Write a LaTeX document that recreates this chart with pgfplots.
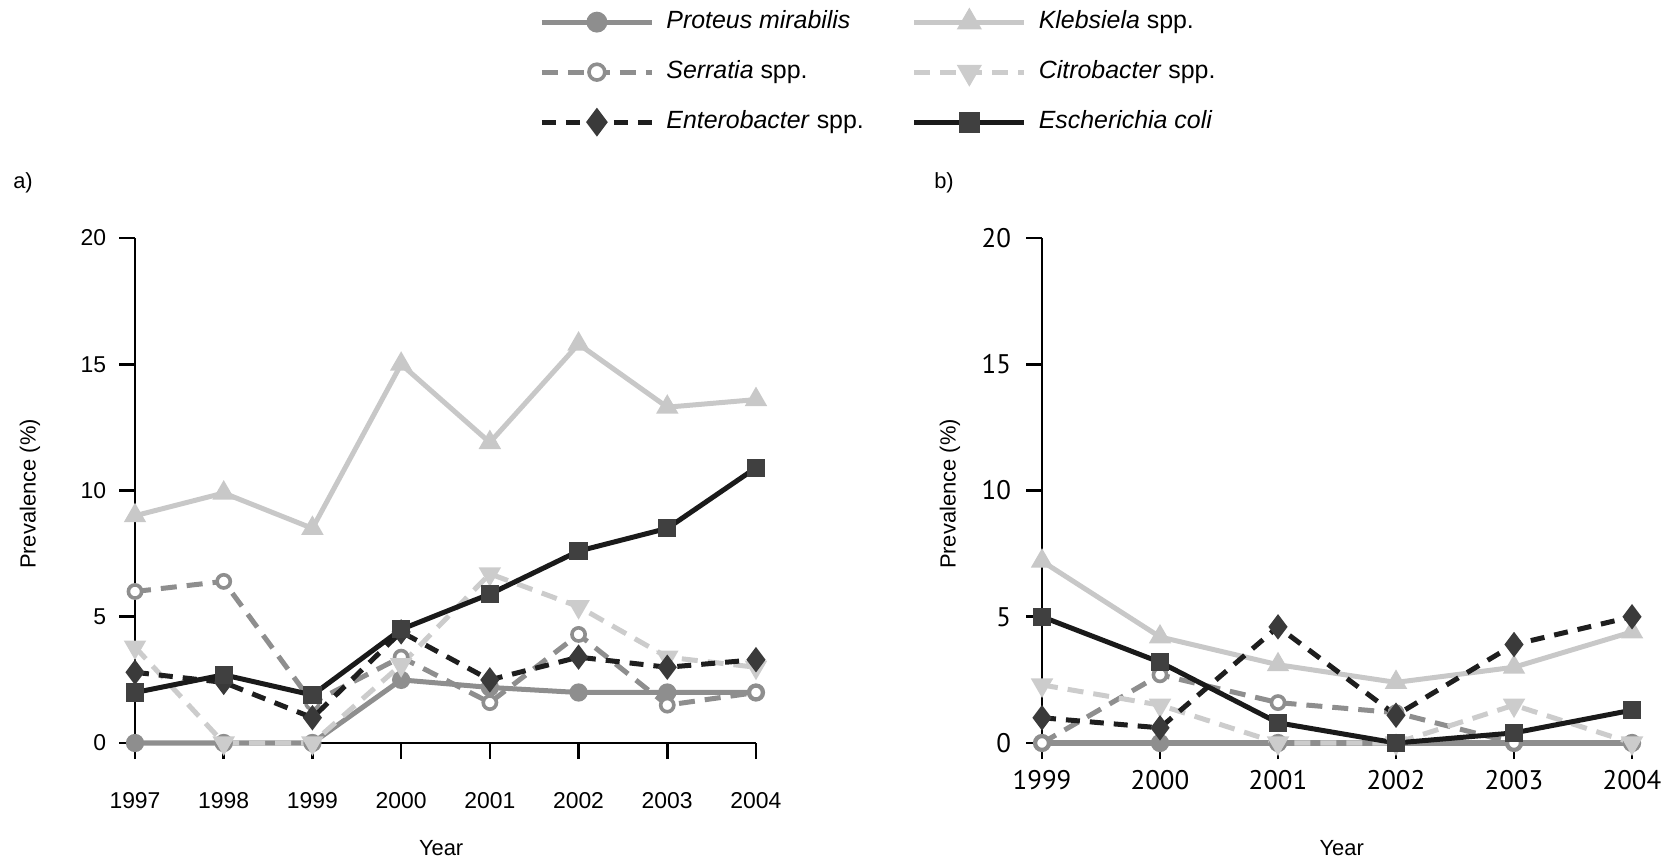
\documentclass[border=0pt]{standalone}
\usepackage{fontspec}
\setmainfont{Liberation Sans}
\newfontfamily\tickfont{PT Sans}
\usepackage{pgfplots}
\usepackage{pgfplotstable}
\pgfplotsset{compat=1.18}

\definecolor{protc}{HTML}{8E8E8E}
\definecolor{klebc}{HTML}{C8C8C8}
\definecolor{serrc}{HTML}{8E8E8E}
\definecolor{citrc}{HTML}{CCCCCC}
\definecolor{entc}{HTML}{1E1E1E}
\definecolor{entm}{HTML}{3A3A3A}
\definecolor{ecoc}{HTML}{1A1A1A}
\definecolor{ecom}{HTML}{404040}

% Prevalence (%) by year, 1997-2004
\pgfplotstableread{
year prot kleb serr citr ent eco
1997 0   9.0  6.0 3.8 2.8 2.0
1998 0   9.9  6.4 0   2.4 2.7
1999 0   8.5  1.6 0   1.0 1.9
2000 2.5 15.0 3.4 3.1 4.4 4.5
2001 2.2 11.9 1.6 6.7 2.5 5.9
2002 2.0 15.8 4.3 5.4 3.4 7.6
2003 2.0 13.3 1.5 3.4 3.0 8.5
2004 2.0 13.6 2.0 3.0 3.3 10.9
}\tabA

% Prevalence (%) by year, 1999-2004
\pgfplotstableread{
year prot kleb serr citr ent eco
1999 0 7.2 0   2.3 1.0 5.0
2000 0 4.2 2.7 1.5 0.6 3.2
2001 0 3.1 1.6 0   4.6 0.8
2002 0 2.4 1.2 0   1.1 0
2003 0 3.0 0   1.5 3.9 0.4
2004 0 4.4 0   0   5.0 1.3
}\tabB

\pgfplotsset{
  prev/.style={
    scale only axis, height=252.5bp,
    ymin=0, ymax=20, ytick={0,5,10,15,20},
    axis x line*=bottom, axis y line*=left,
    axis line style={black, line width=1.3bp, -},
    tick align=outside, major tick length=8bp,
    tick style={black, line width=1.3bp},
    xtick pos=left, ytick pos=left,
    clip=false,
    /pgf/number format/assume math mode=true,
    /pgf/number format/set thousands separator={},
    ylabel={Prevalence (\%)}, xlabel={Year},
    label style={font=\fontsize{11}{13}\selectfont},
    legend image code/.code={\draw[mark repeat=2,mark phase=2,##1,
        every mark/.append style={scale=1.2}]
      plot coordinates {(0bp,0bp) (27.5bp,0bp) (55bp,0bp)};},
  },
  prot/.style={color=protc, line width=2.5bp, mark=*, mark size=3.3bp,
    mark options={solid, fill=protc}},
  kleb/.style={color=klebc, line width=2.5bp, mark=triangle*, mark size=4bp,
    mark options={solid, fill=klebc}},
  serr/.style={color=serrc, line width=2.5bp, dash pattern=on 8bp off 5bp,
    mark=*, mark size=3.3bp, mark options={solid, fill=white, line width=1.8bp}},
  citr/.style={color=citrc, line width=2.5bp, dash pattern=on 8bp off 5bp,
    mark=triangle*, mark size=4bp, mark options={solid, rotate=180, fill=citrc}},
  ent/.style={color=entc, line width=2.5bp, dash pattern=on 7bp off 5bp,
    mark=diamond*, mark size=4.3bp, mark options={solid, fill=entm, draw=entm}},
  eco/.style={color=ecoc, line width=2.5bp, mark=square*, mark size=3.3bp,
    mark options={solid, fill=ecom, draw=ecom}},
}

\begin{document}
\begin{tikzpicture}
\path[use as bounding box] (0,0) rectangle (833.5bp,430bp);

% a) 1997-2004
\begin{axis}[prev,
  at={(67.5bp,58.5bp)}, anchor=south west, width=310.5bp,
  xmin=1997, xmax=2004, xtick={1997,...,2004},
  ticklabel style={font=\fontsize{11.5}{13}\selectfont},
  xticklabel style={yshift=-13bp},
  yticklabel style={xshift=-3bp},
  ylabel style={at={(axis description cs:-0.169,0.493)}, anchor=center},
  xlabel style={at={(axis description cs:0.493,-0.208)}, anchor=center},
  legend columns=2,
  legend style={at={(axis description cs:0.6506,1.452)}, anchor=north west,
    draw=none, fill=none, inner sep=0pt, row sep=13bp,
    font=\fontsize{12.5}{14}\selectfont,
    nodes={inner sep=0pt, text height=9bp, text depth=3bp},
    /tikz/every odd column/.append style={column sep=6bp},
    /tikz/every even column/.append style={column sep=24bp}},
  legend cell align=left,
]
\addplot[prot] table[x=year, y=prot] {\tabA};
\addlegendentry{\textit{Proteus mirabilis}}
\addplot[kleb] table[x=year, y=kleb] {\tabA};
\addlegendentry{\textit{Klebsiela} spp.}
\addplot[serr] table[x=year, y=serr] {\tabA};
\addlegendentry{\textit{Serratia} spp.}
\addplot[citr] table[x=year, y=citr] {\tabA};
\addlegendentry{\textit{Citrobacter} spp.}
\addplot[ent] table[x=year, y=ent] {\tabA};
\addlegendentry{\textit{Enterobacter} spp.}
\addplot[eco] table[x=year, y=eco] {\tabA};
\addlegendentry{\textit{Escherichia coli}}
\end{axis}

% b) 1999-2004
\begin{axis}[prev,
  at={(521bp,58.5bp)}, anchor=south west, width=295bp,
  xmin=1999, xmax=2004, xtick={1999,...,2004},
  ticklabel style={font=\tickfont\fontsize{13.5}{15}\selectfont},
  xticklabel style={yshift=-2bp},
  yticklabel style={xshift=-4bp},
  ylabel style={at={(axis description cs:-0.156,0.493)}, anchor=center},
  xlabel style={at={(axis description cs:0.508,-0.208)}, anchor=center},
]
\addplot[prot] table[x=year, y=prot] {\tabB};
\addplot[kleb] table[x=year, y=kleb] {\tabB};
\addplot[serr] table[x=year, y=serr] {\tabB};
\addplot[citr] table[x=year, y=citr] {\tabB};
\addplot[ent] table[x=year, y=ent] {\tabB};
\addplot[eco] table[x=year, y=eco] {\tabB};
\end{axis}

\node[anchor=center, font=\fontsize{11}{13}\selectfont] at (11.5bp,338.5bp) {a)};
\node[anchor=center, font=\fontsize{11}{13}\selectfont] at (472bp,338.5bp) {b)};
\end{tikzpicture}
\end{document}
